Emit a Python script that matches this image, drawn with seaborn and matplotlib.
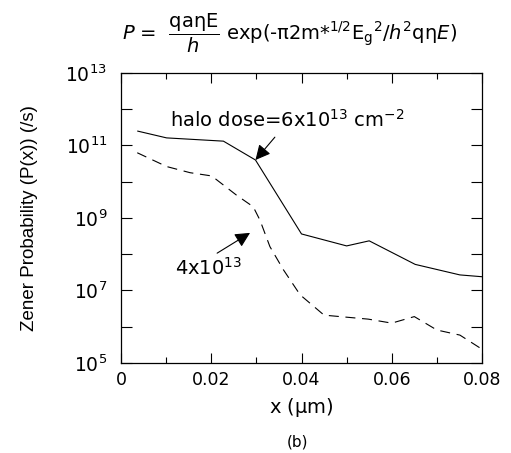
import numpy as np
import pandas as pd
import matplotlib
matplotlib.use("Agg")
import matplotlib.pyplot as plt
import matplotlib.ticker as mticker
import seaborn as sns

# Position along the channel (um) and Zener tunnelling probability (/s)
x_6e13 = [0.0036, 0.0101, 0.0227, 0.0298, 0.0400, 0.0500, 0.0550, 0.0652, 0.0751, 0.0800]
logp_6e13 = [11.40, 11.21, 11.12, 10.60, 8.56, 8.23, 8.37, 7.72, 7.43, 7.38]

x_4e13 = [0.0036, 0.0101, 0.0153, 0.0201, 0.0256, 0.0293, 0.0308, 0.0330, 0.0360,
          0.0397, 0.0450, 0.0548, 0.0600, 0.0650, 0.0700, 0.0751, 0.0800]
logp_4e13 = [10.80, 10.42, 10.25, 10.16, 9.63, 9.31, 8.94, 8.21, 7.57,
             6.88, 6.32, 6.21, 6.10, 6.28, 5.91, 5.77, 5.38]

doses = ["6x10^13", "4x10^13"]
y_ticks = [1e5, 1e7, 1e9, 1e11, 1e13]
y_minor = [1e6, 1e8, 1e10, 1e12]

df = pd.concat([
    pd.DataFrame({"x": x_6e13, "P": np.power(10.0, logp_6e13), "dose": doses[0]}),
    pd.DataFrame({"x": x_4e13, "P": np.power(10.0, logp_4e13), "dose": doses[1]}),
])

sns.set_style("ticks")
plt.rcParams["font.family"] = ["DejaVu Sans"]
plt.rcParams["mathtext.fontset"] = "dejavusans"
plt.rcParams["text.color"] = "black"
plt.rcParams["axes.labelcolor"] = "black"

fig = plt.figure(figsize=(5.11, 4.53), dpi=100)
ax = fig.add_axes([121 / 511, 1 - 363 / 453, (482 - 121) / 511, (363 - 73) / 453])

sns.lineplot(data=df, x="x", y="P", hue="dose", style="dose",
             palette=["black", "black"], dashes=[(1, 0), (9, 6)],
             linewidth=0.8, legend=False, ax=ax, sort=False)

ax.set_yscale("log")
ax.set_xlim(0, 0.08)
ax.set_ylim(1e5, 1e13)

ax.xaxis.set_major_locator(mticker.MultipleLocator(0.02))
ax.xaxis.set_minor_locator(mticker.MultipleLocator(0.01))
ax.xaxis.set_major_formatter(mticker.FuncFormatter(lambda v, p: "0" if v == 0 else f"{v:.2f}"))
ax.yaxis.set_major_locator(mticker.FixedLocator(y_ticks))
ax.yaxis.set_major_formatter(mticker.LogFormatterMathtext(base=10))
ax.yaxis.set_minor_locator(mticker.FixedLocator(y_minor))
ax.yaxis.set_minor_formatter(mticker.NullFormatter())

ax.tick_params(axis="both", which="both", direction="in", top=True, right=True,
               width=0.8, colors="black")
ax.tick_params(axis="x", which="major", length=7, pad=6, labelsize=12.5)
ax.tick_params(axis="x", which="minor", length=4)
ax.tick_params(axis="y", which="both", length=8, pad=10, labelsize=13.5)
for s in ax.spines.values():
    s.set_linewidth(0.9)
    s.set_color("black")

ax.set_xlabel(r"x ($\mathrm{\mu}$m)", fontsize=14, labelpad=5)
ax.set_ylabel("Zener Probability (P(x)) (/s)", fontsize=13.5,
              family="Liberation Sans")
ax.yaxis.set_label_coords((38 - 121) / 361, 0.5)

arrow = dict(arrowstyle="-|>,head_length=0.9,head_width=0.45", color="black",
             lw=0.8, shrinkA=0, shrinkB=0)
ax.annotate("", xy=(0.0298, 10 ** 10.6), xytext=(0.0341, 10 ** 11.23), arrowprops=arrow)
ax.annotate("", xy=(0.0286, 10 ** 8.59), xytext=(0.0213, 10 ** 8.03), arrowprops=arrow)
ax.text(0.0109, 10 ** 11.72, r"halo dose=6x10$^{13}$ cm$^{-2}$", fontsize=14,
        ha="left", va="center")
ax.text(0.0120, 10 ** 7.62, r"4x10$^{13}$", fontsize=14, ha="left", va="center")

fig.text(290 / 511, 1 - 33 / 453,
         r"$P$ =  $\dfrac{\mathrm{qa\eta E}}{h}$ exp(-$\mathrm{\pi}$2m*$^{1/2}$E$_\mathrm{g}$$^{2}$/$h^{2}$q$\mathrm{\eta}$$E$)",
         fontsize=14, ha="center", va="center")
fig.text(298 / 511, 1 - 442 / 453, "(b)", fontsize=11, ha="center", va="center")

fig.savefig("out.png", dpi=100, facecolor="white")
